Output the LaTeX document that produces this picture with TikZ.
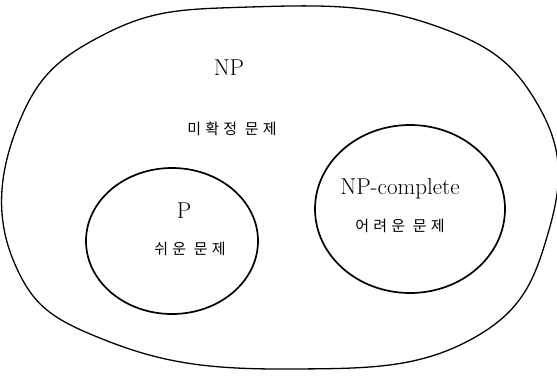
\documentclass[tikz,border=0pt]{standalone}
\usepackage{fontspec}
\usepackage{tikz}
\usetikzlibrary{shapes.geometric, positioning}
\newfontfamily\krfont[LetterSpace=28]{Noto Sans CJK KR}

\begin{document}
\begin{tikzpicture}[x=1pt, y=-1pt,
    classset/.style={ellipse, draw=black, line width=1.7pt, inner sep=0pt},
    classname/.style={font=\fontsize{23}{27}\selectfont},
    classnote/.style={font=\krfont\fontsize{15}{17}\selectfont}
]
    % page frame (reference proportions)
    \useasboundingbox (0,0) rectangle (557,375);

    % Outer NP region (irregular oval)
    \draw[line width=1.3pt] plot[smooth cycle, tension=0.75] coordinates {
        (250,7) (430,24) (538,105) (549,230) (470,340) (290,369)
        (110,342) (14,262) (18,125) (105,34)};

    % Inner classes
    \node[classset, minimum width=172pt, minimum height=146pt] (p) at (172,241) {};
    \node[classset, minimum width=190pt, minimum height=168pt] (npc) at (410,209) {};

    % Labels
    \node[classname] (nplabel) at (229,68) {NP};
    \node[classnote] (npnote) at (232,129) {미확정 문제};
    \node[classname] (plabel) at (184,211) {P};
    \node[classnote] (pnote) at (190,249) {쉬운 문제};
    \node[classname] (npclabel) at (400,189) {NP-complete};
    \node[classnote] (npcnote) at (400,226) {어려운 문제};
\end{tikzpicture}
\end{document}
